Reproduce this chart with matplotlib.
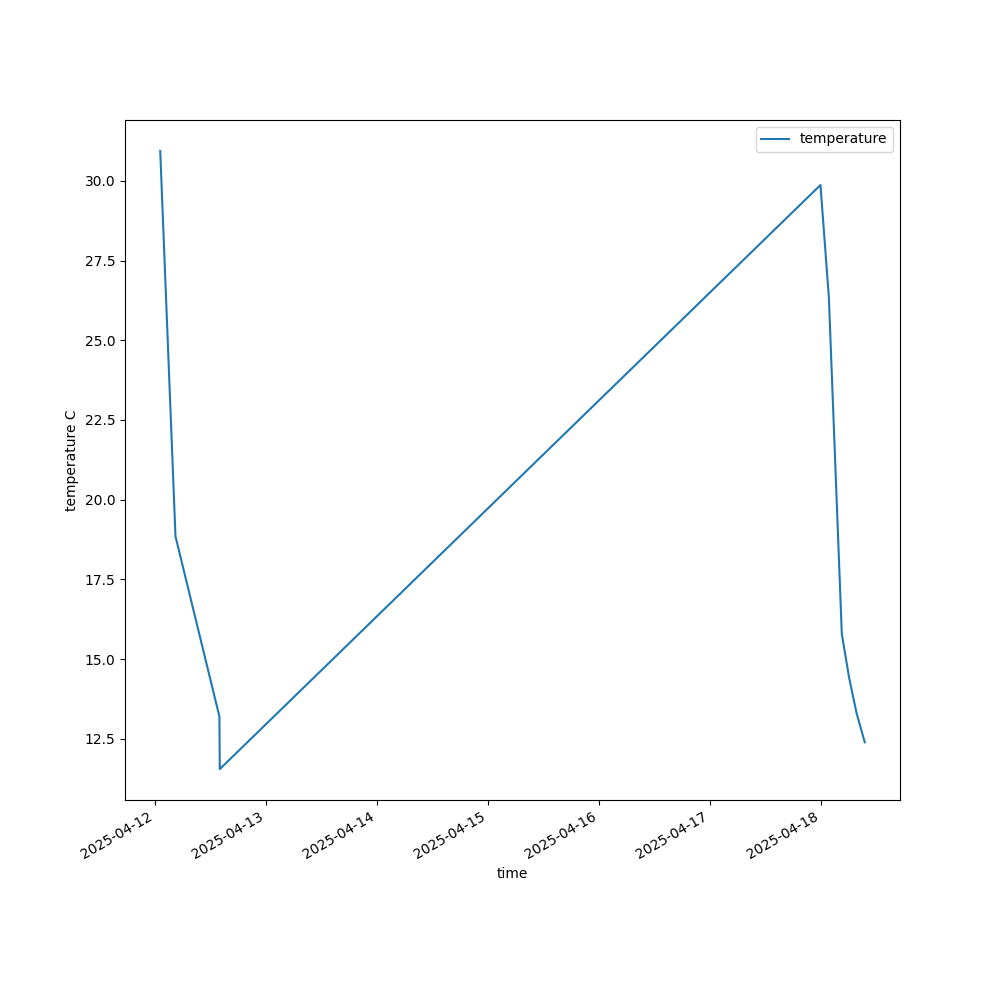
import matplotlib
matplotlib.use("Agg")
import matplotlib.pyplot as plt
import pandas as pd

times = [
    "2025-04-12 01:10", "2025-04-12 04:28", "2025-04-12 13:58", "2025-04-12 14:03",
    "2025-04-17 23:59", "2025-04-18 01:48", "2025-04-18 04:36", "2025-04-18 06:12",
    "2025-04-18 07:48", "2025-04-18 09:34",
]
temperature = [30.94, 18.85, 13.20, 11.55, 29.87, 26.34, 15.79, 14.40, 13.30, 12.39]

df = pd.DataFrame({"time": pd.to_datetime(times), "temperature": temperature})

fig, ax = plt.subplots(figsize=(10, 10), dpi=100)
ax.plot(df["time"], df["temperature"], label="temperature")
ax.set_xlabel("time")
ax.set_ylabel("temperature C")
ax.legend(loc="upper right")
fig.autofmt_xdate()
fig.savefig("out.png")
